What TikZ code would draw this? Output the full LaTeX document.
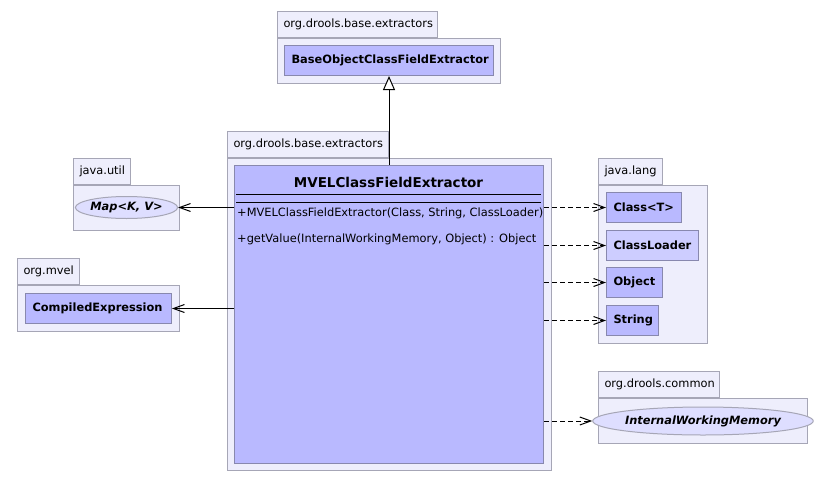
\documentclass[tikz,border=0pt]{standalone}
\usepackage{fontspec}
\setmainfont{DejaVu Sans}
\usetikzlibrary{arrows.meta,shapes.geometric,positioning}
\definecolor{pkgfill}{HTML}{EEEEFC}
\definecolor{pkgline}{HTML}{A6A6B6}
\definecolor{clsfill}{HTML}{B9B9FF}
\definecolor{clsline}{HTML}{8888AE}
\definecolor{lightcls}{HTML}{CDCDFF}
\definecolor{ifcfill}{HTML}{DEDEFF}

\begin{document}
\begin{tikzpicture}[x=1pt,y=-1pt]
  \tikzset{pkgbody/.style = {draw=pkgline, fill=pkgfill, line width=1pt, anchor=north west, inner sep=0pt}}
  \tikzset{pkgtab/.style = {draw=pkgline, fill=pkgfill, line width=1pt, anchor=south west, minimum height=26pt, inner xsep=6pt, inner ysep=0pt, text width=#1, font=\fontsize{11.4}{13}\selectfont}}
  \tikzset{classbox/.style = {draw=clsline, fill=clsfill, line width=1pt, anchor=north west, minimum height=30pt, inner xsep=7pt, inner ysep=0pt, text width=#1, font=\bfseries\fontsize{11.4}{13}\selectfont}}
  \tikzset{ifcbox/.style = {shape=ellipse, draw=pkgline, fill=ifcfill, line width=1pt, inner sep=0pt, font=\bfseries\itshape\fontsize{11.4}{13}\selectfont}}
  \tikzset{assoc/.style = {-{Straight Barb[length=11pt,width=8pt]}, line width=1pt}}
  \tikzset{dep/.style = {-{Straight Barb[length=11pt,width=8pt]}, line width=1pt, dash pattern=on 5pt off 3pt}}
  \tikzset{extends/.style = {-{Triangle[open,length=14pt,width=12pt,fill=white]}, line width=1pt}}

  \useasboundingbox (0,0) rectangle (826,482);

  % packages
  \node[pkgbody, minimum width=223pt, minimum height=45pt] (topPkg) at (277,38) {};
  \node[pkgtab=148pt] (topTab) at (topPkg.north west) {org.drools.base.extractors};
  \node[pkgbody, minimum width=324pt, minimum height=312pt] (mainPkg) at (227,158) {};
  \node[pkgtab=149pt] (mainTab) at (mainPkg.north west) {org.drools.base.extractors};
  \node[pkgbody, minimum width=106pt, minimum height=45pt] (utilPkg) at (73,185) {};
  \node[pkgtab=45pt] (utilTab) at (utilPkg.north west) {java.util};
  \node[pkgbody, minimum width=162pt, minimum height=46pt] (mvelPkg) at (17,285) {};
  \node[pkgtab=50pt] (mvelTab) at (mvelPkg.north west) {org.mvel};
  \node[pkgbody, minimum width=109pt, minimum height=158pt] (langPkg) at (598,185) {};
  \node[pkgtab=52pt] (langTab) at (langPkg.north west) {java.lang};
  \node[pkgbody, minimum width=209pt, minimum height=45pt] (commonPkg) at (598,398) {};
  \node[pkgtab=109pt] (commonTab) at (commonPkg.north west) {org.drools.common};

  % classes
  \node[classbox=195pt] (base) at (284,45) {BaseObjectClassFieldExtractor};
  \node[classbox=132pt] (compiled) at (25,293) {CompiledExpression};
  \node[classbox=61pt] (classT) at (606,192) {Class<T>};
  \node[classbox=78pt, fill=lightcls] (loader) at (606,230) {ClassLoader};
  \node[classbox=42pt] (object) at (606,267) {Object};
  \node[classbox=38pt] (string) at (606,305) {String};
  \node[ifcbox, minimum width=91pt, minimum height=22pt] (mapIf) at (126.5,207.5) {Map<K, V>};
  \node[ifcbox, minimum width=194pt, minimum height=28pt] (iwm) at (703,421) {InternalWorkingMemory};

  % main class
  \node[draw=clsline, fill=clsfill, line width=1pt, anchor=north west, minimum width=309pt, minimum height=298pt, inner sep=0pt] (main) at (234,165) {};
  \node[font=\bfseries\fontsize{13.5}{16}\selectfont] (title) at (388.5,182) {MVELClassFieldExtractor};
  \draw[line width=1pt] (236,194) -- (541,194);
  \draw[line width=1pt] (236,202) -- (541,202);
  \node[anchor=west, inner sep=0pt, font=\fontsize{11.4}{13}\selectfont] (op1) at (237,213) {+MVELClassFieldExtractor(Class, String, ClassLoader)};
  \node[anchor=west, inner sep=0pt, font=\fontsize{11.4}{13}\selectfont] (op2) at (237,239) {+getValue(InternalWorkingMemory, Object) : Object};

  % relations
  \draw[extends] (base.south |- main.north) -- (base.south);
  \draw[assoc] (main.west |- mapIf.east) -- (mapIf.east);
  \draw[assoc] (main.west |- compiled.east) -- (compiled.east);
  \foreach \dst in {classT, loader, object, string, iwm}
    \draw[dep] (main.east |- \dst.west) -- (\dst.west);
\end{tikzpicture}
\end{document}
